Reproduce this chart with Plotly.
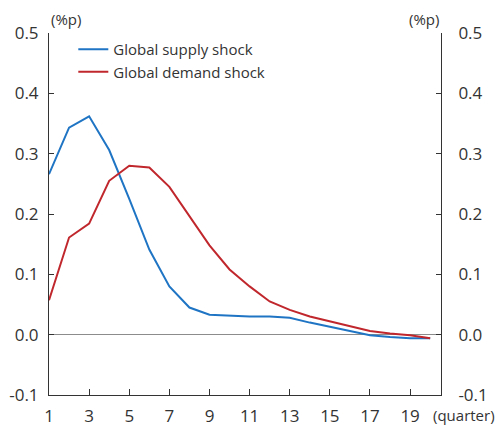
import plotly.graph_objects as go

quarters = list(range(1, 21))
supply_shock = [0.266, 0.343, 0.362, 0.306, 0.225, 0.141, 0.080, 0.045, 0.033, 0.031,
                0.030, 0.030, 0.028, 0.020, 0.013, 0.006, -0.001, -0.004, -0.006, -0.006]
demand_shock = [0.057, 0.161, 0.184, 0.255, 0.280, 0.277, 0.245, 0.196, 0.148, 0.108,
                0.080, 0.055, 0.041, 0.030, 0.022, 0.013, 0.006, 0.002, -0.001, -0.006]
x_ticks = [1, 3, 5, 7, 9, 11, 13, 15, 17, 19]
y_ticks = [-0.1, 0.0, 0.1, 0.2, 0.3, 0.4, 0.5]
y_tick_labels = ["-0.1", "0.0", "0.1", "0.2", "0.3", "0.4", "0.5"]

BLUE = "#1f75c4"
RED = "#c0272d"
INK = "#333333"
FONT = "Open Sans"

fig = go.Figure()
fig.add_trace(go.Scatter(x=quarters, y=supply_shock, mode="lines", name="Global supply shock",
                         line=dict(color=BLUE, width=2)))
fig.add_trace(go.Scatter(x=quarters, y=demand_shock, mode="lines", name="Global demand shock",
                         line=dict(color=RED, width=2)))
# carrier trace so the right-hand axis is rendered
fig.add_trace(go.Scatter(x=quarters, y=demand_shock, mode="lines", yaxis="y2",
                         showlegend=False, hoverinfo="skip", opacity=0,
                         line=dict(width=0)))

yaxis_common = dict(
    range=[-0.1, 0.5], tickvals=y_ticks, ticktext=y_tick_labels, automargin=False,
    ticks="inside", ticklen=5, tickcolor=INK, showline=True, linecolor=INK,
    linewidth=1, showgrid=False, tickfont=dict(size=17, color=INK, family=FONT),
)

fig.update_layout(
    width=495, height=427,
    margin=dict(l=48.5, r=53.5, t=32.5, b=32, autoexpand=False),
    paper_bgcolor="white", plot_bgcolor="white",
    font=dict(family=FONT, color=INK),
    xaxis=dict(range=[1, 20.54], tickvals=x_ticks, ticks="inside", ticklen=6,
               tickcolor=INK, showline=True, linecolor=INK, linewidth=1,
               showgrid=False, zeroline=False, ticklabelstandoff=6, automargin=False,
               tickfont=dict(size=17, color=INK, family=FONT)),
    yaxis=dict(**yaxis_common, zeroline=True, zerolinecolor="#8c8c8c", zerolinewidth=1,
               ticklabelstandoff=6),
    yaxis2=dict(**yaxis_common, overlaying="y", side="right", zeroline=False,
                ticklabelstandoff=13),
    legend=dict(x=0.062, y=1.0, xanchor="left", yanchor="top",
                bgcolor="rgba(0,0,0,0)", font=dict(size=15, color=INK, family=FONT),
                tracegroupgap=2, itemwidth=30),
    showlegend=True,
)

fig.add_annotation(text="(%p)", xref="paper", yref="paper", x=0.0, y=1.0,
                   xanchor="left", yanchor="bottom", yshift=2, showarrow=False,
                   font=dict(size=15, color=INK, family=FONT))
fig.add_annotation(text="(%p)", xref="paper", yref="paper", x=1.0, y=1.0,
                   xanchor="right", yanchor="bottom", yshift=2, showarrow=False,
                   font=dict(size=15, color=INK, family=FONT))
fig.add_annotation(text="(quarter)", xref="paper", yref="paper", x=1.0, y=0.0,
                   xanchor="left", yanchor="top", xshift=-10, yshift=-8, showarrow=False,
                   font=dict(size=15, color=INK, family=FONT))

fig.write_html("out.html")
